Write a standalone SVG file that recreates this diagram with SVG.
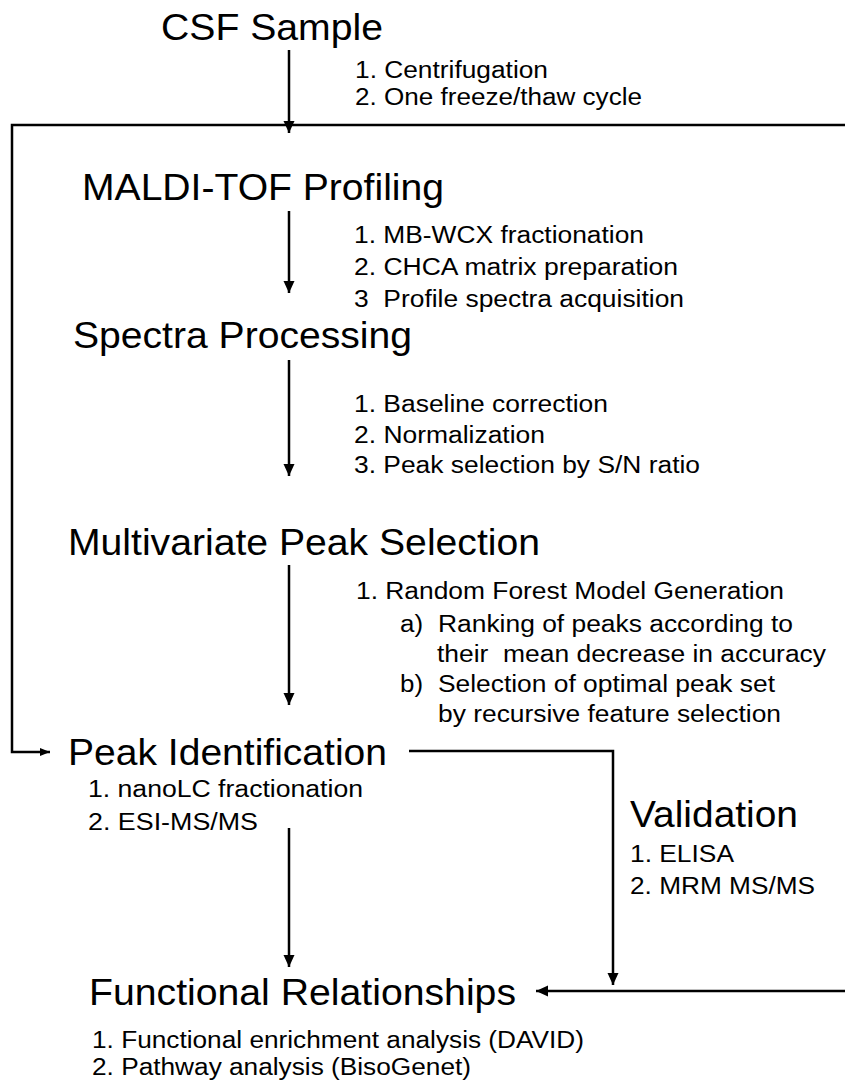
<svg xmlns="http://www.w3.org/2000/svg" width="845" height="1085" viewBox="0 0 845 1085">
<style>
text{font-family:"Liberation Sans",Arial,sans-serif;fill:#000}
.h{font-size:37px}
.s{font-size:23px;white-space:pre}
.c{fill:none;stroke:#000;stroke-width:2.5}
</style>
<defs>
<marker id="ah" markerUnits="userSpaceOnUse" markerWidth="12" markerHeight="12" refX="12" refY="6" orient="auto">
<path d="M0,0.5 L12,6 L0,11.5 z" fill="#000"/>
</marker>
<marker id="ahs" markerUnits="userSpaceOnUse" markerWidth="10" markerHeight="10" refX="10" refY="5" orient="auto">
<path d="M0,1 L10,5 L0,9 z" fill="#000"/>
</marker>
</defs>
<rect width="845" height="1085" fill="#fff"/>
<g id="connectors">
<path class="c" d="M289,50 L289,133" marker-end="url(#ah)"/>
<path class="c" d="M845,125 L12,125 L12,752 L50,752" marker-end="url(#ahs)"/>
<path class="c" d="M289,211 L289,293" marker-end="url(#ah)"/>
<path class="c" d="M289,360 L289,476" marker-end="url(#ah)"/>
<path class="c" d="M289,565 L289,705" marker-end="url(#ah)"/>
<path class="c" d="M289,828 L289,967" marker-end="url(#ah)"/>
<path class="c" d="M409,751 L613,751 L613,985" marker-end="url(#ah)"/>
<path class="c" d="M845,991 L536,991" marker-end="url(#ah)"/>
</g>
<g id="csf">
<text class="h" x="161" y="40" textLength="222" lengthAdjust="spacingAndGlyphs">CSF Sample</text>
<text class="s" x="355" y="78" textLength="193" lengthAdjust="spacingAndGlyphs">1. Centrifugation</text>
<text class="s" x="355" y="105" textLength="287" lengthAdjust="spacingAndGlyphs">2. One freeze/thaw cycle</text>
</g>
<g id="maldi">
<text class="h" x="82" y="200" textLength="362" lengthAdjust="spacingAndGlyphs">MALDI-TOF Profiling</text>
<text class="s" x="354" y="243" textLength="290" lengthAdjust="spacingAndGlyphs">1. MB-WCX fractionation</text>
<text class="s" x="354" y="275" textLength="324" lengthAdjust="spacingAndGlyphs">2. CHCA matrix preparation</text>
<text class="s" x="354" y="307" textLength="330" lengthAdjust="spacingAndGlyphs">3  Profile spectra acquisition</text>
</g>
<g id="spectra">
<text class="h" x="73" y="348" textLength="339" lengthAdjust="spacingAndGlyphs">Spectra Processing</text>
<text class="s" x="354" y="412" textLength="254" lengthAdjust="spacingAndGlyphs">1. Baseline correction</text>
<text class="s" x="354" y="443" textLength="191" lengthAdjust="spacingAndGlyphs">2. Normalization</text>
<text class="s" x="354" y="473" textLength="346" lengthAdjust="spacingAndGlyphs">3. Peak selection by S/N ratio</text>
</g>
<g id="multivariate">
<text class="h" x="68" y="555" textLength="472" lengthAdjust="spacingAndGlyphs">Multivariate Peak Selection</text>
<text class="s" x="356" y="599" textLength="428" lengthAdjust="spacingAndGlyphs">1. Random Forest Model Generation</text>
<text class="s" x="400" y="632" textLength="23" lengthAdjust="spacingAndGlyphs">a)</text>
<text class="s" x="438" y="632" textLength="355" lengthAdjust="spacingAndGlyphs">Ranking of peaks according to</text>
<text class="s" x="437" y="662" textLength="389" lengthAdjust="spacingAndGlyphs">their  mean decrease in accuracy</text>
<text class="s" x="400" y="692" textLength="23" lengthAdjust="spacingAndGlyphs">b)</text>
<text class="s" x="438" y="692" textLength="337" lengthAdjust="spacingAndGlyphs">Selection of optimal peak set</text>
<text class="s" x="438" y="722" textLength="343" lengthAdjust="spacingAndGlyphs">by recursive feature selection</text>
</g>
<g id="peakid">
<text class="h" x="68" y="765" textLength="319" lengthAdjust="spacingAndGlyphs">Peak Identification</text>
<text class="s" x="88" y="797" textLength="275" lengthAdjust="spacingAndGlyphs">1. nanoLC fractionation</text>
<text class="s" x="88" y="830" textLength="170" lengthAdjust="spacingAndGlyphs">2. ESI-MS/MS</text>
</g>
<g id="validation">
<text class="h" x="630" y="827" textLength="168" lengthAdjust="spacingAndGlyphs">Validation</text>
<text class="s" x="630" y="862" textLength="104" lengthAdjust="spacingAndGlyphs">1. ELISA</text>
<text class="s" x="630" y="894" textLength="185" lengthAdjust="spacingAndGlyphs">2. MRM MS/MS</text>
</g>
<g id="functional">
<text class="h" x="89" y="1005" textLength="427" lengthAdjust="spacingAndGlyphs">Functional Relationships</text>
<text class="s" x="92" y="1048" textLength="492" lengthAdjust="spacingAndGlyphs">1. Functional enrichment analysis (DAVID)</text>
<text class="s" x="92" y="1075" textLength="379" lengthAdjust="spacingAndGlyphs">2. Pathway analysis (BisoGenet)</text>
</g>
</svg>
